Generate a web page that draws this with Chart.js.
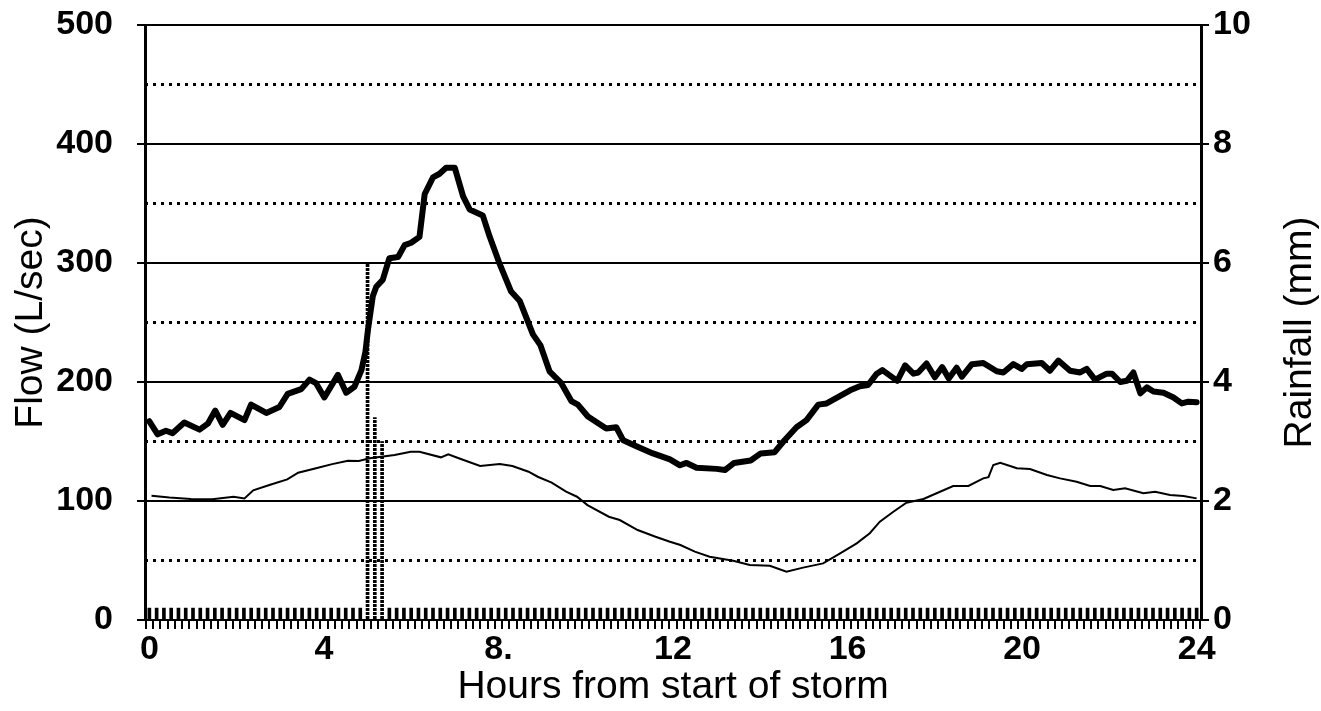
<!DOCTYPE html>
<html>
<head>
    <title>Storm Flow and Rainfall</title>
    <script src="https://cdn.jsdelivr.net/npm/chart.js"></script>
    <style>
        body { margin: 0; background: #fff; }
    </style>
</head>
<body>
    <canvas id="storm-chart" width="1321" height="711"></canvas>

    <script>
        // thick line: flow during the storm (L/sec)
        const stormHours = [0.0, 0.19, 0.38, 0.53, 0.80, 1.15, 1.34, 1.51, 1.68, 1.86, 2.18, 2.33, 2.68, 2.98, 3.17, 3.48, 3.67, 3.82, 4.01, 4.32,
            4.51, 4.70, 4.86, 4.95, 5.01, 5.12, 5.20, 5.35, 5.50, 5.70, 5.85, 6.00, 6.19, 6.31, 6.50, 6.65, 6.80, 7.00, 7.19, 7.34,
            7.64, 7.80, 8.03, 8.29, 8.49, 8.79, 8.96, 9.17, 9.44, 9.67, 9.82, 10.05, 10.47, 10.70, 10.86, 11.16, 11.54, 11.93, 12.16, 12.31,
            12.54, 13.00, 13.19, 13.40, 13.78, 14.01, 14.33, 14.53, 14.83, 15.06, 15.33, 15.52, 16.06, 16.28, 16.47, 16.67, 16.80, 17.14, 17.32, 17.51,
            17.62, 17.81, 18.00, 18.17, 18.32, 18.50, 18.62, 18.85, 19.11, 19.42, 19.57, 19.80, 19.99, 20.11, 20.45, 20.64, 20.83, 21.10, 21.33, 21.48,
            21.67, 21.94, 22.06, 22.25, 22.40, 22.55, 22.71, 22.86, 23.01, 23.24, 23.47, 23.66, 23.81, 24.0];
        const stormFlow = [167, 156, 159, 157, 166, 160, 165, 176, 164, 174, 168, 181, 174, 179, 190, 194, 202, 199, 187, 206,
            191, 196, 210, 225, 244, 272, 280, 286, 304, 305, 315, 317, 322, 358, 372, 375, 380, 380, 356, 345,
            340, 322, 299, 276, 268, 240, 231, 209, 199, 184, 181, 171, 161, 162, 151, 146, 140, 135, 130, 132,
            128, 127, 126, 132, 134, 140, 141, 150, 162, 168, 181, 182, 193, 196.5, 197.5, 207, 210, 201, 214, 207,
            208, 215.5, 204, 212.5, 203, 212, 204.5, 215, 216, 209, 208, 215, 211, 215, 216, 209.5, 218, 209.5, 208, 211,
            202, 207, 207, 200, 201, 208, 190.5, 195.5, 192, 191, 187, 182, 183.5, 183];

        // thin line: dry weather flow (L/sec)
        const dryHours = [0.05, 0.46, 0.95, 1.44, 1.93, 2.18, 2.38, 2.75, 3.16, 3.41, 3.82, 4.19, 4.55, 4.80, 5.05, 5.62, 5.99, 6.19, 6.68, 6.85,
            7.09, 7.58, 8.03, 8.32, 8.69, 8.90, 9.22, 9.55, 9.80, 10.04, 10.53, 10.78, 11.19, 11.60, 11.93, 12.17, 12.50, 12.84, 13.38, 13.76,
            14.22, 14.60, 14.98, 15.44, 15.83, 16.21, 16.51, 16.74, 17.05, 17.35, 17.74, 18.12, 18.42, 18.77, 19.11, 19.23, 19.34, 19.50, 19.88, 20.18,
            20.57, 20.87, 21.25, 21.56, 21.79, 22.09, 22.36, 22.78, 23.05, 23.39, 23.70, 24.0];
        const dryFlow = [104.5, 103, 101.7, 101.4, 103.6, 102.2, 109, 113.4, 118.2, 123.8, 127.5, 131, 133.9, 133.6, 135.9, 138.7, 141.4, 141.4, 136.7, 139.2,
            135.9, 129.4, 131, 129.4, 124.6, 120.4, 115.4, 107.8, 103.6, 96.6, 86.8, 84, 75.6, 70, 65.8, 63, 57.4, 53.2, 49.8, 46.2,
            45.6, 40.6, 44, 47.6, 56, 64.4, 72.9, 82.6, 91, 98.6, 101.7, 107.8, 112.6, 112.6, 119, 120, 130.3, 132.2, 127.5, 126.9,
            121.8, 119, 116.2, 112.6, 112.6, 109.2, 110.7, 106.5, 107.8, 105, 104.2, 102.2];

        // rainfall every 10 minutes (mm)
        const rainStepMinutes = 10;
        const rainfall = [
            0.2, 0.2, 0.2, 0.2, 0.2, 0.2, 0.2, 0.2, 0.2, 0.2, 0.2, 0.2,
            0.2, 0.2, 0.2, 0.2, 0.2, 0.2, 0.2, 0.2, 0.2, 0.2, 0.2, 0.2,
            0.2, 0.2, 0.2, 0.2, 0.2, 0.2, 6.0, 3.4, 3.0, 0.2, 0.2, 0.2,
            0.2, 0.2, 0.2, 0.2, 0.2, 0.2, 0.2, 0.2, 0.2, 0.2, 0.2, 0.2,
            0.2, 0.2, 0.2, 0.2, 0.2, 0.2, 0.2, 0.2, 0.2, 0.2, 0.2, 0.2,
            0.2, 0.2, 0.2, 0.2, 0.2, 0.2, 0.2, 0.2, 0.2, 0.2, 0.2, 0.2,
            0.2, 0.2, 0.2, 0.2, 0.2, 0.2, 0.2, 0.2, 0.2, 0.2, 0.2, 0.2,
            0.2, 0.2, 0.2, 0.2, 0.2, 0.2, 0.2, 0.2, 0.2, 0.2, 0.2, 0.2,
            0.2, 0.2, 0.2, 0.2, 0.2, 0.2, 0.2, 0.2, 0.2, 0.2, 0.2, 0.2,
            0.2, 0.2, 0.2, 0.2, 0.2, 0.2, 0.2, 0.2, 0.2, 0.2, 0.2, 0.2,
            0.2, 0.2, 0.2, 0.2, 0.2, 0.2, 0.2, 0.2, 0.2, 0.2, 0.2, 0.2,
            0.2, 0.2, 0.2, 0.2, 0.2, 0.2, 0.2, 0.2, 0.2, 0.2, 0.2, 0.2,
            0.2
        ];

        const hourTicks = [0, 4, 8, 12, 16, 20, 24];
        const hourLabels = ['0', '4', '8.', '12', '16', '20', '24'];
        const rainHours = rainfall.map((v, i) => i * rainStepMinutes / 60);

        const fontFamily = '"Liberation Sans", Arial, sans-serif';
        const tickFont = { family: fontFamily, size: 34, weight: 'bold' };
        const titleFont = { family: fontFamily, size: 39 };

        const canvas = document.getElementById('storm-chart');
        const ctx = canvas.getContext('2d');

        // dotted fill for the tall rainfall bars
        const patCanvas = document.createElement('canvas');
        patCanvas.width = 4;
        patCanvas.height = 4;
        const pctx = patCanvas.getContext('2d');
        pctx.fillStyle = '#000';
        pctx.fillRect(0, 0, 4, 3);
        const rainFill = ctx.createPattern(patCanvas, 'repeat');

        const toPoints = (xs, ys) => xs.map((x, i) => ({ x: x, y: ys[i] }));

        // keep the plot box where the original has it
        const fixBox = (width) => (scale) => {
            scale.width = width;
            scale.paddingTop = 0;
            scale.paddingBottom = 0;
        };

        // the right-hand title reads bottom to top, as on the left
        const rightTitle = {
            id: 'rightTitle',
            afterDraw(chart) {
                const a = chart.chartArea;
                const c = chart.ctx;
                c.save();
                c.translate(1300, (a.top + a.bottom) / 2 + 10);
                c.rotate(-Math.PI / 2);
                c.fillStyle = '#000';
                c.font = titleFont.size + 'px ' + fontFamily;
                c.textAlign = 'center';
                c.textBaseline = 'middle';
                c.fillText('Rainfall (mm)', 0, 0);
                c.restore();
            }
        };

        new Chart(ctx, {
            type: 'line',
            data: {
                datasets: [
                    {
                        label: 'Storm flow',
                        data: toPoints(stormHours, stormFlow),
                        borderColor: '#000',
                        borderWidth: 6,
                        borderJoinStyle: 'round',
                        borderCapStyle: 'round',
                        pointRadius: 0,
                        tension: 0,
                        yAxisID: 'y',
                        order: 1
                    },
                    {
                        label: 'Dry weather flow',
                        data: toPoints(dryHours, dryFlow),
                        borderColor: '#000',
                        borderWidth: 2,
                        pointRadius: 0,
                        tension: 0,
                        yAxisID: 'y',
                        order: 2
                    },
                    {
                        type: 'bar',
                        label: 'Rainfall',
                        data: toPoints(rainHours, rainfall),
                        backgroundColor: (c) => (c.raw && c.raw.y > 1) ? rainFill : '#000',
                        borderWidth: 0,
                        barThickness: 3,
                        grouped: false,
                        yAxisID: 'y1',
                        order: 3
                    }
                ]
            },
            options: {
                responsive: false,
                animation: false,
                devicePixelRatio: 1,
                layout: { padding: { top: 25, left: 0, right: 0, bottom: 0 } },
                plugins: {
                    legend: { display: false },
                    tooltip: { enabled: false }
                },
                scales: {
                    x: {
                        type: 'linear',
                        min: -0.1,
                        max: 24.1,
                        offset: false,
                        afterBuildTicks: (scale) => {
                            scale.ticks = rainHours.map(h => ({ value: h }));
                        },
                        afterFit: (scale) => { scale.height = 91; },
                        ticks: {
                            autoSkip: false,
                            maxRotation: 0,
                            padding: 0,
                            color: '#000',
                            font: tickFont,
                            callback: (value) => {
                                const k = hourTicks.findIndex(h => Math.abs(h - value) < 1e-6);
                                return k >= 0 ? hourLabels[k] : '';
                            }
                        },
                        grid: {
                            drawOnChartArea: false,
                            drawTicks: true,
                            tickLength: 9,
                            color: '#000',
                            lineWidth: 2
                        },
                        border: { display: true, color: '#000', width: 2 },
                        title: {
                            display: true,
                            text: 'Hours from start of storm',
                            color: '#000',
                            font: titleFont,
                            padding: 0
                        }
                    },
                    y: {
                        position: 'left',
                        min: 0,
                        max: 500,
                        afterFit: fixBox(145),
                        ticks: { stepSize: 100, padding: 24, color: '#000', font: tickFont },
                        grid: { color: '#000', lineWidth: 2, tickLength: 8 },
                        border: { display: true, color: '#000', width: 3 },
                        title: {
                            display: true,
                            text: 'Flow (L/sec)',
                            color: '#000',
                            font: titleFont,
                            padding: { top: 8, bottom: 0 }
                        }
                    },
                    yMinor: {
                        position: 'left',
                        min: 0,
                        max: 500,
                        afterFit: fixBox(0),
                        ticks: { stepSize: 50, display: false },
                        grid: {
                            drawTicks: false,
                            lineWidth: 3,
                            color: (c) => (c.tick && c.tick.value % 100 !== 0) ? '#000' : 'rgba(0,0,0,0)'
                        },
                        border: { display: false, dash: [3, 5] }
                    },
                    y1: {
                        position: 'right',
                        min: 0,
                        max: 10,
                        afterFit: fixBox(120),
                        ticks: { stepSize: 2, padding: 4, color: '#000', font: tickFont },
                        grid: { drawOnChartArea: false, color: '#000', lineWidth: 2, tickLength: 8 },
                        border: { display: true, color: '#000', width: 3 }
                    }
                }
            },
            plugins: [rightTitle]
        });
    </script>
</body>
</html>
